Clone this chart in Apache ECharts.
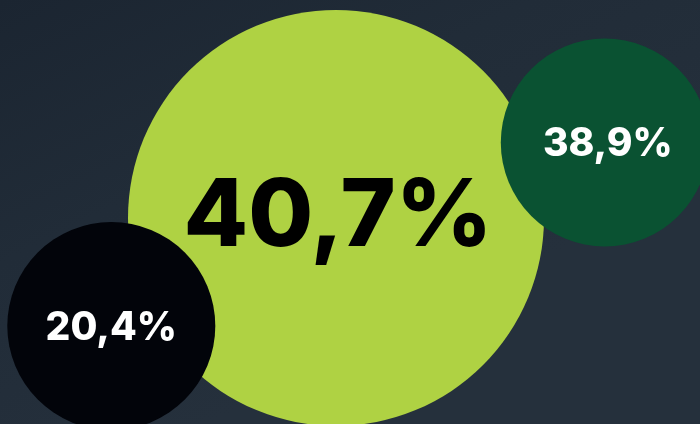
<!DOCTYPE html>
<html>
<head>
<meta charset="utf-8">
<script src="https://cdn.jsdelivr.net/npm/echarts@6/dist/echarts.min.js"></script>
<style>
html,body{margin:0;padding:0;background:#1e2935;}
#chart{width:700px;height:424px;}
</style>
</head>
<body>
<div id="chart"></div>
<script>
// Data
const labels = ['40,7%', '38,9%', '20,4%'];
const values = [40.7, 38.9, 20.4];
const posX = [48.0, 86.4, 15.9];   // horizontal position (% of width)
const posY = [51.4, 33.6, 76.9];   // vertical position (% of height, from top)

const colors = ['#afd243', '#0a5232', '#02040a'];
const textColors = ['#000000', '#ffffff', '#ffffff'];

const maxV = Math.max(...values);

const chart = echarts.init(document.getElementById('chart'));
const data = values.map((v, i) => ({
  value: [posX[i], posY[i], v],
  name: labels[i],
  itemStyle: { color: colors[i], opacity: 1 },
  label: {
    color: textColors[i],
    fontSize: v === maxV ? 94 : 39,
    offset: v === maxV ? [2, 0] : [i === 1 ? 3 : 0, 2]
  }
}));

chart.setOption({
  backgroundColor: {
    type: 'linear', x: 0, y: 0, x2: 0.3, y2: 1,
    colorStops: [
      { offset: 0, color: '#1b2531' },
      { offset: 0.5, color: '#212c38' },
      { offset: 1, color: '#25303c' }
    ]
  },
  animation: false,
  grid: { left: 0, right: 0, top: 0, bottom: 0 },
  xAxis: { type: 'value', min: 0, max: 100, show: false },
  yAxis: { type: 'value', min: 0, max: 100, inverse: true, show: false },
  series: [{
    type: 'scatter',
    data: data,
    symbol: 'circle',
    symbolSize: (val) => val[2] === maxV ? 416 : 208,
    itemStyle: { opacity: 1 },
    label: {
      show: true,
      position: 'inside',
      formatter: (p) => p.name,
      fontFamily: 'Inter',
      fontWeight: 800,
      opacity: 1
    },
    emphasis: { disabled: true }
  }]
});
</script>
</body>
</html>
